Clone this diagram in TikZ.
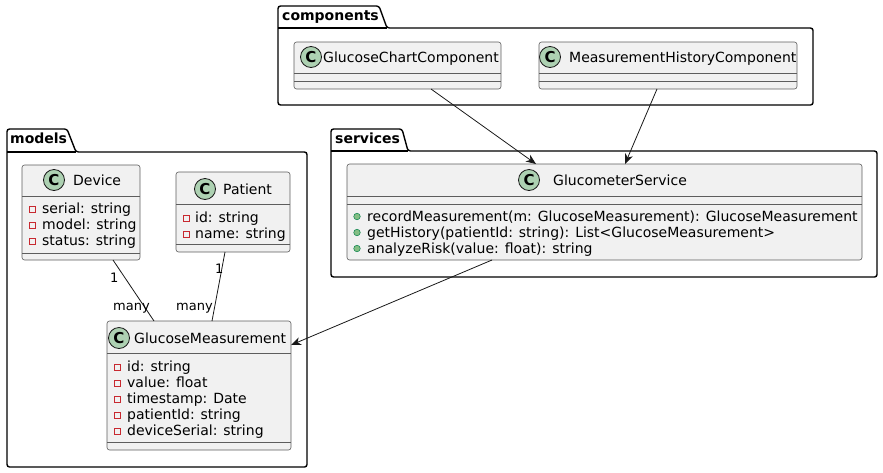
\documentclass[tikz,border=0pt]{standalone}
\usepackage{fontspec}
\setmainfont{DejaVu Sans}
\usetikzlibrary{arrows.meta}
\definecolor{clsfill}{HTML}{F1F1F1}
\definecolor{clsedge}{HTML}{181818}
\definecolor{iconfill}{HTML}{ADD1B2}
\definecolor{privred}{HTML}{C82930}
\definecolor{pubfill}{HTML}{84BE84}
\definecolor{pubedge}{HTML}{038048}
\tikzset{
  cls/.style={draw=clsedge!70, fill=clsfill, line width=0.6pt, rounded corners=2.5pt,
    inner sep=0pt, outer sep=0pt, anchor=north west},
  clsline/.style={draw=clsedge!70, line width=0.6pt},
  icon/.style={circle, draw=clsedge, fill=iconfill, line width=0.8pt, minimum size=21pt,
    inner sep=0pt, font=\fontsize{15}{15}\selectfont\bfseries},
  clsname/.style={anchor=base west, inner sep=0pt, font=\fontsize{14}{16}\selectfont},
  member/.style={anchor=base west, inner sep=0pt, font=\fontsize{14}{16}\selectfont},
  priv/.style={draw=privred, line width=0.7pt, minimum size=6pt, inner sep=0pt},
  pub/.style={circle, draw=pubedge, fill=pubfill, line width=0.5pt, minimum size=6.5pt, inner sep=0pt},
  pkg/.style={draw=black, line width=1.4pt, rounded corners=2.5pt},
  pkglbl/.style={anchor=base west, inner sep=0pt, font=\fontsize{14}{16}\selectfont\bfseries},
  mult/.style={anchor=base west, inner sep=0pt, font=\fontsize{13}{15}\selectfont},
  dep/.style={draw=clsedge, line width=0.8pt, -{Stealth[length=10pt,width=8pt,inset=3pt]}},
  assoc/.style={draw=clsedge, line width=0.8pt},
}

\begin{document}
\begin{tikzpicture}[x=1pt,y=-1pt]
\useasboundingbox (0,0) rectangle (883,472);

% packages
\draw[pkg] (278,28) -- (278,6) -- (379,6) -- (387,28) -- (813,28) -- (813,105) -- (278,105) -- cycle;
\draw[pkg] (278,28) -- (387,28);
\node[pkglbl] (pkgcomp) at (282,20) {components};
\draw[pkg] (331,151) -- (331,129) -- (402,129) -- (408,151) -- (877,151) -- (877,277) -- (331,277) -- cycle;
\draw[pkg] (331,151) -- (408,151);
\node[pkglbl] (pkgserv) at (335,143) {services};
\draw[pkg] (7,152) -- (7,129) -- (67,129) -- (76,152) -- (307,152) -- (307,467) -- (7,467) -- cycle;
\draw[pkg] (7,152) -- (76,152);
\node[pkglbl] (pkgmod) at (10,143) {models};

% components
\node[cls, minimum width=207pt, minimum height=47pt] (gcc) at (294,42) {};
\draw[clsline] ([yshift=-31pt]gcc.north west) -- ([yshift=-31pt]gcc.north east);
\draw[clsline] ([yshift=-39pt]gcc.north west) -- ([yshift=-39pt]gcc.north east);
\node[icon] (gcc-c) at (311,57) {C};
\node[clsname] (gcc-n) at (323,62) {GlucoseChartComponent};

\node[cls, minimum width=258pt, minimum height=47pt] (mhc) at (539,42) {};
\draw[clsline] ([yshift=-31pt]mhc.north west) -- ([yshift=-31pt]mhc.north east);
\draw[clsline] ([yshift=-39pt]mhc.north west) -- ([yshift=-39pt]mhc.north east);
\node[icon] (mhc-c) at (550,57) {C};
\node[clsname] (mhc-n) at (569,62) {MeasurementHistoryComponent};

% services
\node[cls, minimum width=515pt, minimum height=96pt] (gs) at (347,164) {};
\draw[clsline] ([yshift=-32pt]gs.north west) -- ([yshift=-32pt]gs.north east);
\draw[clsline] ([yshift=-40pt]gs.north west) -- ([yshift=-40pt]gs.north east);
\node[icon] (gs-c) at (529,180) {C};
\node[clsname] (gs-n) at (553,185) {GlucometerService};
\foreach \t [count=\i] in {recordMeasurement(m: GlucoseMeasurement): GlucoseMeasurement,
    getHistory(patientId: string): List<GlucoseMeasurement>, analyzeRisk(value: float): string} {
  \node[pub] (gs-v\i) at (357,{200.5+16*\i}) {};
  \node[member] (gs-m\i) at (367,{205+16*\i}) {\t};
}

% models
\node[cls, minimum width=118pt, minimum height=95pt] (dev) at (22,165) {};
\draw[clsline] ([yshift=-31pt]dev.north west) -- ([yshift=-31pt]dev.north east);
\draw[clsline] ([yshift=-88pt]dev.north west) -- ([yshift=-88pt]dev.north east);
\node[icon] (dev-c) at (54,180) {C};
\node[clsname] (dev-n) at (73,185) {Device};
\foreach \t [count=\i] in {serial: string, model: string, status: string} {
  \node[priv] (dev-v\i) at (32,{193+16*\i}) {};
  \node[member] (dev-a\i) at (42,{197+16*\i}) {\t};
}

\node[cls, minimum width=114pt, minimum height=80pt] (pat) at (176,172) {};
\draw[clsline] ([yshift=-32pt]pat.north west) -- ([yshift=-32pt]pat.north east);
\draw[clsline] ([yshift=-72pt]pat.north west) -- ([yshift=-72pt]pat.north east);
\node[icon] (pat-c) at (205,189) {C};
\node[clsname] (pat-n) at (223,194) {Patient};
\foreach \t [count=\i] in {id: string, name: string} {
  \node[priv] (pat-v\i) at (186,{202+16*\i}) {};
  \node[member] (pat-a\i) at (195,{206+16*\i}) {\t};
}

\node[cls, minimum width=184pt, minimum height=129pt] (gm) at (107,321) {};
\draw[clsline] ([yshift=-32pt]gm.north west) -- ([yshift=-32pt]gm.north east);
\draw[clsline] ([yshift=-121pt]gm.north west) -- ([yshift=-121pt]gm.north east);
\node[icon] (gm-c) at (119,338) {C};
\node[clsname] (gm-n) at (134,343) {GlucoseMeasurement};
\foreach \t [count=\i] in {id: string, value: float, timestamp: Date, patientId: string, deviceSerial: string} {
  \node[priv] (gm-v\i) at (117,{351+16*\i}) {};
  \node[member] (gm-a\i) at (127,{355+16*\i}) {\t};
}

% connectors
\draw[dep] ([xshift=137pt]gcc.south west) -- ([xshift=189pt]gs.north west);
\draw[dep] ([xshift=118pt]mhc.south west) -- ([xshift=278pt]gs.north west);
\draw[dep] ([xshift=145pt]gs.south west) -- ([yshift=-24pt]gm.north east);
\draw[assoc] ([xshift=91pt]dev.south west) -- ([xshift=47pt]gm.north west);
\draw[assoc] ([xshift=49pt]pat.south west) -- ([xshift=105pt]gm.north west);
\node[mult] (dev-one) at (110,282) {1};
\node[mult] (dev-many) at (113,310) {many};
\node[mult] (pat-one) at (215,273) {1};
\node[mult] (pat-many) at (176,310) {many};
\end{tikzpicture}
\end{document}
